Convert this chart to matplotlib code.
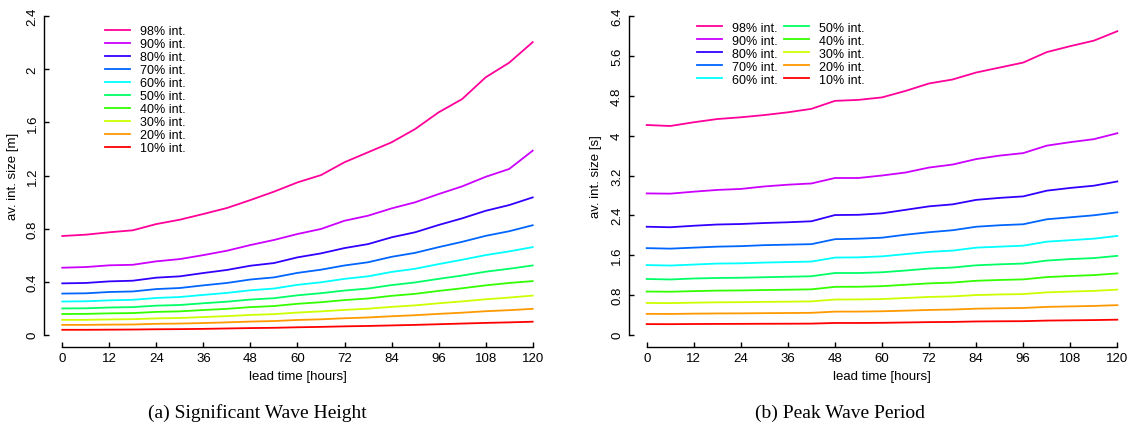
import numpy as np
from matplotlib import pyplot as plt
from matplotlib.ticker import FormatStrFormatter

# lead times every 6 hours
lead = np.arange(0, 121, 6)

labels = ["98% int.", "90% int.", "80% int.", "70% int.", "60% int.",
          "50% int.", "40% int.", "30% int.", "20% int.", "10% int."]
# R rainbow(10), reversed so the widest interval is pink
colors = ["#FF0099", "#CC00FF", "#3300FF", "#0066FF", "#00FFFF",
          "#00FF66", "#33FF00", "#CCFF00", "#FF9900", "#FF0000"]

# significant wave height, average interval size [m]
hs98 = [0.744, 0.754, 0.772, 0.787, 0.834, 0.867, 0.910, 0.955, 1.015, 1.078, 1.148,
        1.203, 1.300, 1.375, 1.450, 1.550, 1.676, 1.776, 1.940, 2.050, 2.205]
hs90 = [0.505, 0.510, 0.523, 0.527, 0.553, 0.570, 0.600, 0.633, 0.676, 0.714, 0.759,
        0.797, 0.859, 0.897, 0.952, 0.998, 1.060, 1.118, 1.190, 1.249, 1.387]
hs80 = [0.387, 0.390, 0.402, 0.407, 0.430, 0.440, 0.465, 0.488, 0.520, 0.540, 0.583,
        0.613, 0.653, 0.683, 0.734, 0.772, 0.827, 0.877, 0.934, 0.977, 1.035]
hs70 = [0.310, 0.312, 0.322, 0.326, 0.344, 0.352, 0.372, 0.390, 0.416, 0.432, 0.466,
        0.490, 0.522, 0.546, 0.587, 0.617, 0.660, 0.700, 0.745, 0.780, 0.825]
hs60 = [0.250, 0.252, 0.259, 0.263, 0.277, 0.284, 0.300, 0.315, 0.335, 0.348, 0.376,
        0.395, 0.421, 0.440, 0.473, 0.497, 0.532, 0.565, 0.600, 0.628, 0.660]
hs50 = [0.198, 0.199, 0.205, 0.208, 0.219, 0.224, 0.237, 0.249, 0.265, 0.275, 0.297,
        0.313, 0.333, 0.348, 0.374, 0.394, 0.421, 0.446, 0.475, 0.497, 0.522]
hs40 = [0.156, 0.157, 0.161, 0.163, 0.172, 0.176, 0.186, 0.195, 0.208, 0.216, 0.233,
        0.245, 0.261, 0.273, 0.293, 0.308, 0.330, 0.350, 0.372, 0.390, 0.404]
hs30 = [0.112, 0.112, 0.115, 0.117, 0.123, 0.126, 0.133, 0.140, 0.149, 0.155, 0.167,
        0.176, 0.187, 0.196, 0.210, 0.221, 0.237, 0.251, 0.267, 0.280, 0.295]
hs20 = [0.074, 0.074, 0.076, 0.077, 0.082, 0.084, 0.088, 0.093, 0.099, 0.103, 0.111,
        0.116, 0.124, 0.130, 0.139, 0.147, 0.157, 0.166, 0.177, 0.185, 0.195]
hs10 = [0.037, 0.037, 0.038, 0.039, 0.041, 0.042, 0.044, 0.047, 0.050, 0.052, 0.056,
        0.059, 0.063, 0.066, 0.070, 0.074, 0.079, 0.084, 0.089, 0.093, 0.098]

# peak wave period, average interval size [s]
tp98 = [4.215, 4.195, 4.270, 4.335, 4.370, 4.415, 4.470, 4.540, 4.700, 4.720, 4.770,
        4.900, 5.050, 5.130, 5.270, 5.370, 5.470, 5.680, 5.800, 5.910, 6.100]
tp90 = [2.840, 2.835, 2.875, 2.910, 2.930, 2.980, 3.015, 3.040, 3.150, 3.150, 3.200,
        3.260, 3.360, 3.420, 3.530, 3.600, 3.650, 3.800, 3.870, 3.930, 4.050]
tp80 = [2.170, 2.160, 2.190, 2.215, 2.225, 2.245, 2.260, 2.280, 2.405, 2.410, 2.440,
        2.510, 2.580, 2.620, 2.710, 2.750, 2.780, 2.895, 2.950, 2.995, 3.080]
tp70 = [1.740, 1.730, 1.750, 1.770, 1.780, 1.800, 1.810, 1.820, 1.920, 1.930, 1.950,
        2.010, 2.060, 2.100, 2.170, 2.200, 2.220, 2.320, 2.360, 2.400, 2.460]
tp60 = [1.400, 1.390, 1.410, 1.430, 1.435, 1.450, 1.460, 1.470, 1.550, 1.555, 1.575,
        1.620, 1.665, 1.690, 1.750, 1.770, 1.790, 1.870, 1.900, 1.930, 1.985]
tp50 = [1.120, 1.110, 1.130, 1.140, 1.145, 1.155, 1.165, 1.175, 1.240, 1.240, 1.255,
        1.290, 1.330, 1.350, 1.395, 1.415, 1.430, 1.490, 1.520, 1.540, 1.585]
tp40 = [0.868, 0.864, 0.876, 0.886, 0.890, 0.898, 0.904, 0.912, 0.962, 0.964, 0.976,
        1.004, 1.032, 1.048, 1.084, 1.100, 1.112, 1.158, 1.180, 1.198, 1.232]
tp30 = [0.638, 0.635, 0.644, 0.651, 0.654, 0.660, 0.664, 0.670, 0.707, 0.709, 0.717,
        0.738, 0.759, 0.770, 0.797, 0.809, 0.817, 0.851, 0.867, 0.881, 0.906]
tp20 = [0.419, 0.417, 0.423, 0.427, 0.429, 0.433, 0.436, 0.440, 0.464, 0.465, 0.471,
        0.484, 0.498, 0.506, 0.523, 0.531, 0.537, 0.559, 0.569, 0.578, 0.594]
tp10 = [0.213, 0.212, 0.215, 0.217, 0.218, 0.220, 0.221, 0.223, 0.236, 0.236, 0.239,
        0.246, 0.253, 0.257, 0.266, 0.270, 0.272, 0.284, 0.289, 0.294, 0.302]

hs = [hs98, hs90, hs80, hs70, hs60, hs50, hs40, hs30, hs20, hs10]
tp = [tp98, tp90, tp80, tp70, tp60, tp50, tp40, tp30, tp20, tp10]

plt.rcParams['font.family'] = ['Liberation Sans', 'DejaVu Sans']
fig = plt.figure(figsize=(11.3, 4.27), dpi=100)


def panel(rect, series, ymax, ystep, ylab, lab_x, leg_anchor, ncol):
    ax = fig.add_axes(rect)
    for s, c, l in zip(series, colors, labels):
        ax.plot(lead, s, color=c, lw=1.3, label=l, clip_on=False)
    ax.set_xlim(0, 120)
    ax.set_ylim(0, ymax)
    ax.set_xticks(np.arange(0, 121, 12))
    ax.set_yticks(np.arange(0, ymax + 1e-9, ystep))
    ax.yaxis.set_major_formatter(FormatStrFormatter('%g'))
    # R style detached axes
    for side in ['top', 'right']:
        ax.spines[side].set_visible(False)
    ax.spines['left'].set_position(('outward', 13))
    ax.spines['bottom'].set_position(('outward', 8.6))
    ax.spines['left'].set_bounds(0, ymax)
    ax.spines['bottom'].set_bounds(0, 120)
    for side in ['left', 'bottom']:
        ax.spines[side].set_linewidth(1.0)
    ax.tick_params(direction='in', length=3.6, width=1.0, labelsize=9.5, pad=4)
    for t in ax.get_yticklabels():
        t.set_rotation(90)
        t.set_va('center')
    ax.set_xlabel("lead time [hours]", fontsize=9.5, labelpad=4)
    ax.set_ylabel(ylab, fontsize=9.5)
    ax.yaxis.set_label_coords(lab_x, 0.5)
    ax.legend(loc='upper left', bbox_to_anchor=leg_anchor, bbox_transform=fig.transFigure,
              ncol=ncol, frameon=False, fontsize=9, borderpad=0, borderaxespad=0,
              handlelength=2.0, handletextpad=0.8, labelspacing=0.08, columnspacing=0.5)
    return ax


panel([0.0551, 0.2138, 0.4163, 0.7457], hs, 2.4, 0.4, "av. int. size [m]", -0.093,
      (0.0929, 0.938), 1)
panel([0.5723, 0.2138, 0.4165, 0.7457], tp, 6.4, 0.8, "av. int. size [s]", -0.096,
      (0.6168, 0.947), 2)

fig.text(0.2274, 0.033, "(a) Significant Wave Height", ha='center', va='center',
         family='Liberation Serif', fontsize=14)
fig.text(0.7434, 0.033, "(b) Peak Wave Period", ha='center', va='center',
         family='Liberation Serif', fontsize=14)

plt.savefig("out.png", dpi=100)
